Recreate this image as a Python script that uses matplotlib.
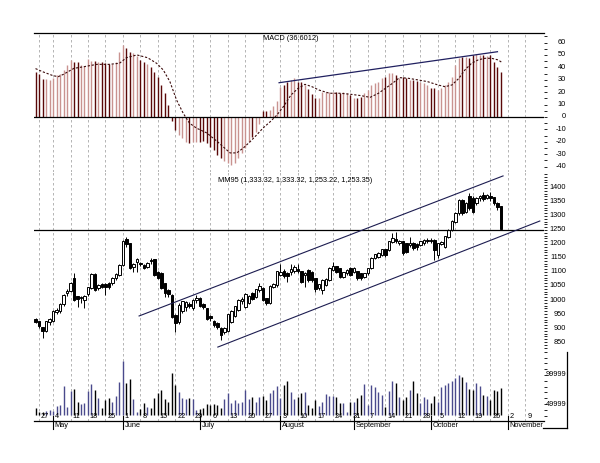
import numpy as np
import pandas as pd
import matplotlib
matplotlib.use('Agg')
import matplotlib.pyplot as plt
import matplotlib.transforms as mtransforms
from matplotlib.lines import Line2D

plt.rcParams['font.family'] = ['Liberation Sans', 'DejaVu Sans']

# daily bars, one per trading day starting 24 Apr 2009 (1 May closed)
opens = [930, 922, 902, 890, 920, 925, 958, 960, 985, 1025,
         1032, 1078, 1012, 1006, 1000, 1020, 1042, 1092, 1042, 1055,
         1056, 1060, 1060, 1078, 1088, 1125, 1215, 1202, 1119, 1135,
         1130, 1122, 1119, 1140, 1145, 1100, 1095, 1058, 1035, 1018,
         945, 920, 960, 975, 985, 970, 1000, 1006, 983, 970,
         940, 923, 917, 899, 885, 890, 923, 944, 965, 995,
         976, 988, 1024, 1012, 1036, 1042, 1004, 988, 1048, 1052,
         1090, 1101, 1095, 1100, 1105, 1110, 1101, 1090, 1107, 1100,
         1077, 1042, 1036, 1054, 1071, 1107, 1119, 1113, 1083, 1095,
         1113, 1101, 1101, 1095, 1083, 1095, 1113, 1149, 1155, 1161,
         1179, 1179, 1208, 1215, 1202, 1208, 1202, 1196, 1202, 1200,
         1196, 1202, 1210, 1214, 1214, 1160, 1200, 1190, 1226, 1250,
         1280, 1310, 1357, 1315, 1369, 1363, 1345, 1363, 1375, 1365,
         1370, 1365, 1345, 1333.32]
highs = [935, 925, 905, 925, 935, 963, 970, 990, 1022, 1040,
         1065, 1098, 1015, 1015, 1018, 1048, 1098, 1095, 1058, 1060,
         1062, 1065, 1082, 1095, 1130, 1215, 1226, 1205, 1131, 1150,
         1135, 1128, 1135, 1150, 1148, 1105, 1101, 1062, 1040, 1020,
         950, 988, 998, 998, 992, 1005, 1018, 1010, 988, 972,
         945, 928, 920, 902, 903, 950, 965, 980, 1005, 1010,
         1025, 1018, 1030, 1040, 1060, 1048, 1008, 1052, 1060, 1105,
         1130, 1110, 1100, 1128, 1125, 1130, 1105, 1100, 1112, 1105,
         1080, 1058, 1075, 1078, 1118, 1137, 1122, 1116, 1100, 1110,
         1118, 1118, 1105, 1098, 1098, 1116, 1152, 1165, 1172, 1183,
         1182, 1212, 1238, 1244, 1215, 1212, 1205, 1226, 1206, 1203,
         1212, 1218, 1220, 1222, 1218, 1205, 1210, 1230, 1255, 1285,
         1315, 1362, 1362, 1350, 1381, 1370, 1368, 1375, 1387, 1380,
         1387, 1368, 1350, 1333.32]
lows = [918, 900, 866, 885, 912, 922, 950, 955, 980, 1015,
        1028, 995, 976, 990, 972, 1015, 1038, 1032, 1035, 1042,
        1018, 1040, 1055, 1072, 1085, 1120, 1190, 1110, 1100, 1101,
        1120, 1110, 1115, 1130, 1085, 1075, 1040, 1010, 1012, 935,
        885, 915, 955, 962, 970, 965, 990, 975, 968, 928,
        925, 905, 898, 857, 878, 885, 918, 940, 960, 985,
        972, 985, 1000, 1008, 1030, 995, 982, 985, 1042, 1048,
        1085, 1080, 1065, 1090, 1095, 1098, 1060, 1048, 1066, 1065,
        1030, 1035, 1020, 1050, 1068, 1105, 1096, 1080, 1078, 1090,
        1085, 1098, 1072, 1072, 1080, 1090, 1110, 1145, 1150, 1158,
        1155, 1175, 1205, 1205, 1198, 1162, 1168, 1190, 1180, 1178,
        1192, 1198, 1205, 1205, 1143, 1150, 1195, 1185, 1222, 1245,
        1275, 1305, 1305, 1310, 1322, 1312, 1340, 1355, 1355, 1360,
        1355, 1340, 1321, 1253.22]
closes = [922, 906, 888, 922, 930, 960, 962, 985, 1018, 1030,
          1060, 1000, 1004, 1010, 1014, 1044, 1092, 1036, 1052, 1048,
          1048, 1045, 1078, 1090, 1125, 1208, 1200, 1113, 1128, 1145,
          1128, 1115, 1131, 1138, 1090, 1078, 1042, 1025, 1020, 941,
          917, 982, 994, 990, 980, 1000, 1005, 979, 975, 931,
          935, 911, 905, 875, 899, 947, 961, 976, 1000, 1002,
          1020, 1012, 1004, 1036, 1048, 1000, 988, 1048, 1054, 1101,
          1100, 1084, 1086, 1110, 1118, 1104, 1065, 1095, 1071, 1071,
          1038, 1054, 1071, 1074, 1113, 1121, 1101, 1083, 1098, 1107,
          1089, 1113, 1077, 1077, 1095, 1113, 1149, 1161, 1167, 1179,
          1161, 1208, 1220, 1212, 1208, 1167, 1173, 1202, 1184, 1188,
          1208, 1214, 1214, 1212, 1179, 1202, 1205, 1226, 1250, 1280,
          1310, 1357, 1310, 1345, 1327, 1315, 1363, 1369, 1361, 1372,
          1365, 1345, 1333, 1253.35]
volumes = [42500, 36800, 36800, 38500, 39600, 38500, 46500, 48300, 81000, 45400,
           72400, 76400, 54000, 50000, 51100, 72400, 84500, 74100, 59800, 42500,
           56900, 59800, 54000, 63800, 87400, 124200, 85600, 92500, 58000, 36800,
           40800, 51100, 45400, 42500, 59800, 68400, 74100, 58000, 54000, 104000,
           82800, 71300, 59800, 58000, 59800, 59200, 39600, 40800, 42500, 50000,
           48300, 49400, 48300, 42500, 58000, 68400, 52300, 56900, 52300, 54000,
           74100, 58000, 62600, 54000, 62600, 63800, 56900, 68400, 74100, 81000,
           59800, 82800, 90200, 71300, 58000, 62600, 68400, 71300, 48300, 42500,
           56900, 46500, 54000, 67200, 64400, 63800, 62600, 51100, 51100, 36800,
           54000, 54000, 59800, 65500, 84500, 48300, 82800, 78700, 71300, 65500,
           45400, 73000, 90200, 86800, 62600, 56900, 62600, 74100, 90200, 68400,
           51100, 61500, 58000, 51100, 64400, 54000, 78700, 82800, 85600, 90200,
           94300, 100000, 96000, 88500, 75300, 74100, 85600, 81000, 65500, 63800,
           56900, 74100, 73000, 77000]
macd = [36.5, 34.4, 30.6, 30.3, 29.8, 31.7, 33.8, 34.4, 37.9, 41.9,
        46.0, 44.6, 44.1, 41.9, 41.4, 46.7, 45.1, 45.1, 44.6, 44.6,
        43.3, 42.4, 42.4, 44.1, 52.7, 58.0, 55.9, 52.7, 51.3, 49.4,
        46.0, 44.1, 42.4, 40.6, 36.5, 32.5, 25.8, 19.1, 9.7, -3.0,
        -10.5, -14.5, -17.2, -19.9, -21.2, -19.9, -20.4, -19.9, -19.4, -21.2,
        -23.9, -26.6, -30.7, -32.8, -35.5, -37.4, -38.7, -37.4, -33.4, -29.3,
        -25.3, -19.9, -15.9, -11.8, -5.9, 5.0, 5.0, 5.5, 9.0, 12.5,
        24.5, 26.0, 28.0, 29.8, 31.2, 28.5, 28.5, 25.8, 22.6, 18.3,
        15.0, 15.0, 20.4, 19.9, 20.4, 19.9, 19.9, 19.1, 20.4, 19.1,
        17.7, 15.0, 15.0, 16.4, 19.1, 21.7, 25.8, 27.1, 28.5, 31.2,
        32.5, 35.2, 35.2, 33.8, 31.7, 32.5, 31.2, 29.8, 29.8, 29.0,
        28.5, 27.1, 25.8, 23.1, 23.1, 21.7, 23.1, 25.8, 28.5, 32.5,
        41.9, 47.3, 48.6, 48.6, 47.8, 50.0, 50.5, 50.0, 50.0, 49.4,
        50.0, 44.6, 40.6, 36.6]
# signal line read at these bar positions
signal_x = [0, 2, 5, 6.5, 8, 11, 14, 17.5, 21, 24, 26, 29, 32, 34.6, 36.5,
            38.4, 40.3, 42.2, 44, 46, 49, 52, 54, 55.6, 57.5, 59.4, 61.3,
            63.2, 65, 67, 69, 71, 73, 75, 77, 79, 81, 84, 87, 90, 93, 95.6,
            98, 100, 102, 104, 106.5, 109.4, 112, 115, 117, 119, 121, 122.7,
            124.6, 126.5, 128.4, 130.3, 132.2, 133.2]
signal_y = [39, 36.5, 33.3, 32.5, 34.4, 39.2, 40.6, 42.4, 42.4, 43.3, 47.8,
            50, 47.8, 43.3, 37.9, 28.5, 13.7, 3, -5, -9, -13, -20, -25, -29,
            -29, -25, -20, -14.5, -9, -4, 1.6, 9, 17.7, 23, 26.3, 24.4, 21.7,
            19.1, 19.1, 18.3, 17.2, 15.8, 19.1, 23.1, 27.1, 31.7, 31.2, 29.8,
            28.5, 25.8, 24.4, 25.8, 31.2, 37.9, 43.3, 46, 47.3, 47.3, 46, 44.1]

# hand-drawn trend lines: (bar position, value) end points
macd_trend = [(69.6, 27.6), (132.0, 52.6)]
channel_top = [(29.6, 943), (133.6, 1443)]
channel_bottom = [(52.1, 832), (144.1, 1282)]
support_level = 1250

macd_ticks = list(range(-40, 61, 10))
price_ticks = list(range(850, 1401, 50))
vol_ticks = [49999, 99999]
month_names = ['May', 'June', 'July', 'August', 'September', 'October', 'November']

# calendar
days = pd.bdate_range('2009-04-24', '2009-11-13')
days = days[days != pd.Timestamp('2009-05-01')]
pos = np.arange(len(days))
mon_mask = (days.dayofweek == 0) & (days <= pd.Timestamp('2009-11-09'))
mondays = pos[mon_mask]
monday_labels = [str(d.day) for d in days[mon_mask]]
month_first = [pos[days.month == m][0] for m in range(5, 12)]

n = len(closes)
x = np.arange(n)
o = np.array(opens); h = np.array(highs); l = np.array(lows); c = np.array(closes)
down = c < o

fig = plt.figure(figsize=(6.0, 4.63), dpi=100)
L, W = 34 / 600, 510 / 600
def box(top, bot):
    return [L, 1 - bot / 463, W, (bot - top) / 463]
ax1 = fig.add_axes(box(33, 172))
ax2 = fig.add_axes(box(172, 350))
ax3 = fig.add_axes(box(350, 421))

grid_kw = dict(color='#a8a8a8', lw=0.6, linestyle=(0, (3, 3)), zorder=0)
for ax in (ax1, ax2, ax3):
    ax.set_xlim(-0.43, 145.3)
    for m in mondays:
        ax.axvline(m, **grid_kw)
    for s in ax.spines.values():
        s.set_visible(False)
    ax.set_xticks([])
    ax.yaxis.tick_right()
    ax.tick_params(axis='y', which='both', direction='out', length=2.5,
                   width=0.6, labelright=False, labelleft=False)

lab_x = (566 - 34) / 510
fs = 5.3

# MACD panel
ax1.set_ylim(-44.4, 67.7)
ax1.spines['top'].set_visible(True)
ax1.spines['top'].set_linewidth(0.9)
mcol = np.where(down, '#5a0808', '#c99390')
ax1.vlines(x, 0, macd, colors=mcol, lw=1.0, zorder=2)
ax1.axhline(0, color='black', lw=0.9, zorder=3)
ax1.plot(signal_x, signal_y, color='#3a0a0a', lw=0.8, dashes=(2, 1.6), zorder=4)
ax1.plot(*zip(*macd_trend), color='#202060', lw=0.9, zorder=4)
ax1.set_yticks(macd_ticks)
ax1.set_yticks(np.arange(-40, 66, 5), minor=True)
tr1 = mtransforms.blended_transform_factory(ax1.transAxes, ax1.transData)
for t in macd_ticks:
    ax1.text(lab_x, t, str(t), transform=tr1, ha='right', va='center', fontsize=fs)
ax1.text((263 - 34) / 510, (172 - 38) / 139, 'MACD (36.6012)', transform=ax1.transAxes,
         ha='left', va='center', fontsize=fs)

# price panel
ax2.set_ylim(821.5, 1457)
ax2.vlines(x, l, h, colors='black', lw=0.7, zorder=2)
ax2.bar(x, np.abs(c - o) + 1.5, bottom=np.minimum(o, c), width=0.75,
        color=np.where(down, 'black', 'white'), edgecolor='black', lw=0.7, zorder=3)
ax2.axhline(support_level, color='black', lw=0.9, zorder=4)
ax2.plot(*zip(*channel_top), color='#1c1c50', lw=0.8, zorder=4)
ax2.plot(*zip(*channel_bottom), color='#1c1c50', lw=0.8, zorder=4)
ax2.set_yticks(price_ticks)
ax2.set_yticks(np.arange(830, 1451, 10), minor=True)
tr2 = mtransforms.blended_transform_factory(ax2.transAxes, ax2.transData)
for t in price_ticks:
    ax2.text(lab_x, t, str(t), transform=tr2, ha='right', va='center', fontsize=fs)
ax2.text((218 - 34) / 510, (350 - 180) / 178,
         'MM95 (1,333.32, 1,333.32, 1,253.22, 1,253.35)', transform=ax2.transAxes,
         ha='left', va='center', fontsize=fs)

# volume panel
vbase = 31000
ax3.set_ylim(20690, 143100)
vcol = np.where(down, 'black', '#4a4a8c')
ax3.vlines(x, vbase, volumes, colors=vcol, lw=1.0, zorder=2)
ax3.spines['bottom'].set_visible(True)
ax3.spines['bottom'].set_linewidth(0.9)
ax3.set_yticks(vol_ticks)
ax3.set_yticks(np.arange(30000, 140001, 10000), minor=True)
tr3 = mtransforms.blended_transform_factory(ax3.transAxes, ax3.transData)
for t in vol_ticks:
    ax3.text(lab_x, t, str(t), transform=tr3, ha='right', va='center', fontsize=fs)

trx = mtransforms.blended_transform_factory(ax3.transData, ax3.transAxes)
for m, lab in zip(mondays, monday_labels):
    ax3.text(m + 0.5, 0.01, lab, transform=trx, ha='left', va='bottom', fontsize=fs)
for m, name in zip(month_first, month_names):
    ax3.plot([m, m], [0.07, -0.11], transform=trx, color='black', lw=0.8, clip_on=False)
    ax3.text(m + 0.5, -0.02, name, transform=trx, ha='left', va='top', fontsize=fs)

# frame corner at the bottom right
fig.add_artist(Line2D([567 / 600, 567 / 600], [1 - 352 / 463, 1 - 428 / 463],
                      color='black', lw=0.9))
fig.add_artist(Line2D([543 / 600, 567 / 600], [1 - 428 / 463, 1 - 428 / 463],
                      color='black', lw=0.9))

fig.savefig('out.png', dpi=100)
